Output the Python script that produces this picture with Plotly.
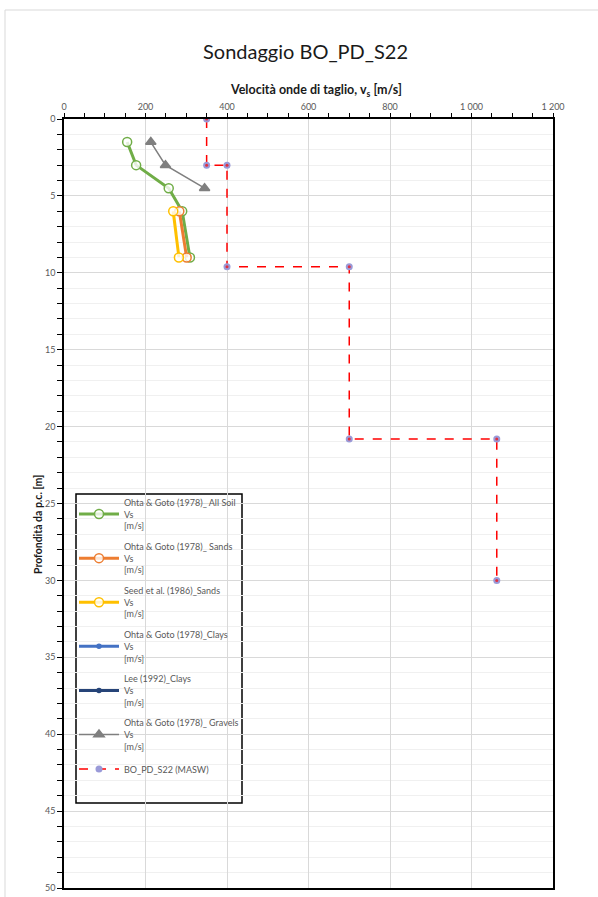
import plotly.graph_objects as go

# Shear-wave velocity profiles (Vs in m/s, depth in m)
all_soil_vs = [155, 177, 257, 290, 309]
all_soil_z = [1.5, 3, 4.5, 6, 9]

sands_vs = [283, 301]
sands_z = [6, 9]

seed_vs = [268, 282]
seed_z = [6, 9]

clays_vs = [None]
clays_z = [None]

lee_vs = [None]
lee_z = [None]

gravels_vs = [213, 249, 345]
gravels_z = [1.5, 3, 4.5]

masw_vs = [350, 350, 400, 400, 700, 700, 1062, 1062]
masw_z = [0, 3, 3, 9.6, 9.6, 20.8, 20.8, 30]

x_ticks = [0, 200, 400, 600, 800, 1000, 1200]
x_tick_text = ["0", "200", "400", "600", "800", "1 000", "1 200"]
y_ticks = [0, 5, 10, 15, 20, 25, 30, 35, 40, 45, 50]

W, H = 598, 897
L, R, T, B = 64, 553, 119, 888


def px(x):
    return (x - L) / (R - L)


def py(y):
    return (B - y) / (B - T)


FONT = "Lato"
fig = go.Figure()


def add_series(name, xs, ys, color, width, symbol, msize, fill, dash="solid", mline=None):
    fig.add_trace(go.Scatter(
        x=xs, y=ys, name=name, mode="lines+markers",
        line=dict(color=color, width=width, dash=dash),
        marker=dict(symbol=symbol, size=msize, color=fill,
                    line=dict(color=mline or color, width=1.5 if mline is None else 0)),
        legendgroup=name,
    ))


add_series("Ohta & Goto (1978)_ All Soil<br>Vs<br>[m/s]", all_soil_vs, all_soil_z,
           "#70ad47", 3, "circle", 9, "rgba(255,255,255,0.8)")
add_series("Ohta & Goto (1978)_ Sands<br>Vs<br>[m/s]", sands_vs, sands_z,
           "#ed7d31", 3, "circle", 9, "rgba(255,255,255,0.8)")
add_series("Seed et al. (1986)_Sands<br>Vs<br>[m/s]", seed_vs, seed_z,
           "#ffc000", 3, "circle", 9, "rgba(255,255,255,0.8)")
add_series("Ohta & Goto (1978)_Clays<br>Vs<br>[m/s]", clays_vs, clays_z,
           "#4472c4", 3, "circle", 4, "#4472c4")
add_series("Lee (1992)_Clays<br>Vs<br>[m/s]", lee_vs, lee_z,
           "#264478", 3, "circle", 4, "#264478")
add_series("Ohta & Goto (1978)_ Gravels<br>Vs<br>[m/s]", gravels_vs, gravels_z,
           "#7f7f7f", 1.5, "triangle-up", 9, "#7f7f7f")
add_series("BO_PD_S22 (MASW)", masw_vs, masw_z,
           "#ff0000", 1.5, "circle", 7, "#9a9ad8", dash="dash", mline="#9a9ad8")

# red centre dots on the MASW points
fig.add_trace(go.Scatter(x=masw_vs, y=masw_z, mode="markers", showlegend=False,
                         marker=dict(size=3, color="#e03040"), hoverinfo="skip"))

fig.update_xaxes(
    side="top", range=[0, 1200], tickvals=x_ticks, ticktext=x_tick_text,
    showgrid=True, gridcolor="#d9d9d9", gridwidth=1,
    showline=True, linecolor="#000000", linewidth=1.5, mirror=True,
    ticks="outside", ticklen=4, tickcolor="#000000",
    minor=dict(dtick=50, ticks="outside", ticklen=4, tickcolor="#000000", showgrid=False),
    tickfont=dict(family=FONT, size=9, color="#595959"), zeroline=False,
    automargin=False,
)
fig.update_yaxes(
    range=[50, 0], tickvals=y_ticks,
    showgrid=True, gridcolor="#d9d9d9", gridwidth=1,
    showline=True, linecolor="#000000", linewidth=1.5, mirror=True,
    ticks="outside", ticklen=5, tickcolor="#000000",
    minor=dict(dtick=1, ticks="outside", ticklen=5, tickcolor="#000000",
               showgrid=True, gridcolor="#f0f0f0", gridwidth=1),
    tickfont=dict(family=FONT, size=9, color="#595959"), zeroline=False,
    automargin=False,
)

fig.update_layout(
    width=W, height=H, plot_bgcolor="white", paper_bgcolor="white",
    margin=dict(l=L, r=W - R, t=T, b=H - B, pad=0, autoexpand=False),
    font=dict(family=FONT, color="#595959"),
    legend=dict(
        x=px(74), y=py(490), xanchor="left", yanchor="top",
        bgcolor="rgba(0,0,0,0)", borderwidth=0,
        font=dict(family=FONT, size=9, color="#595959"),
        tracegroupgap=6, itemwidth=40,
    ),
    shapes=[
        dict(type="rect", xref="paper", yref="paper",
             x0=px(76), x1=px(242), y0=py(803), y1=py(494),
             line=dict(color="#000000", width=1.5), fillcolor="white", layer="below"),
        dict(type="rect", xref="paper", yref="paper",
             x0=px(5), x1=px(640), y0=py(10), y1=py(940),
             line=dict(color="#d9d9d9", width=1), layer="below"),
    ],
    annotations=[
        dict(text="Sondaggio BO_PD_S22", xref="paper", yref="paper",
             x=px(305), y=py(37), showarrow=False,
             font=dict(family=FONT, size=20, color="#1a1a1a")),
        dict(text="<b>Velocità onde di taglio, v<sub>s</sub> [m/s]</b>", xref="paper", yref="paper",
             x=px(316), y=py(80), showarrow=False,
             font=dict(family=FONT, size=12.5, color="#1a1a1a")),
        dict(text="<b>Profondità da p.c. [m]</b>", xref="paper", yref="paper",
             x=px(30), y=py(525), showarrow=False, textangle=-90,
             font=dict(family=FONT, size=10.5, color="#1a1a1a")),
    ],
)

fig.write_html("out.html")
